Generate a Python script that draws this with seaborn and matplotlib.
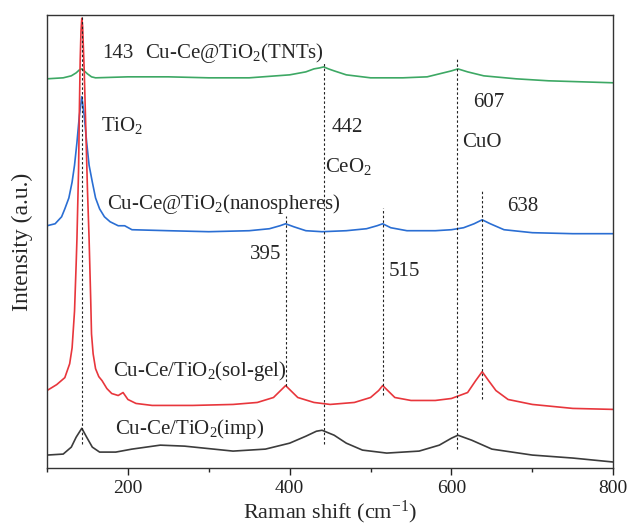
import matplotlib
matplotlib.use("Agg")
import matplotlib.pyplot as plt
import seaborn as sns
import pandas as pd
from matplotlib.ticker import MultipleLocator

# ---- data (Raman shift, intensity a.u.) ----
tnt_x = [100, 120, 130, 136, 140, 143, 146, 150, 155, 160, 200, 250, 300, 350,
         400, 420, 430, 437, 442, 448, 455, 470, 500, 540, 570, 590, 600, 608,
         620, 640, 680, 720, 760, 800]
tnt_y = [392, 393, 395, 398, 401, 402, 400, 397, 394, 393, 394, 394, 393, 393,
         396, 399, 402, 403, 404, 402, 400, 396, 393, 393, 394, 398, 400, 402,
         399, 395, 392, 390, 389, 388]

nano_x = [100, 110, 118, 122, 127, 131, 134, 137, 140, 143, 146, 149, 152, 156,
          160, 165, 171, 178, 188, 196, 205, 250, 300, 350, 375, 388, 395, 405,
          420, 440, 470, 495, 508, 515, 525, 545, 580, 600, 615, 628, 638, 648,
          665, 700, 750, 800]
nano_y = [244, 246, 253, 261, 272, 288, 305, 328, 355, 374, 355, 328, 305, 288,
          272, 261, 253, 248, 244, 244, 240, 239, 238, 239, 241, 244, 246, 243,
          239, 238, 239, 241, 244, 246, 242, 239, 239, 240, 242, 246, 250, 246,
          240, 237, 236, 236]

solgel_x = [100, 112, 122, 128, 131, 134, 136, 137, 139, 140, 141, 142, 143, 144,
            146, 148, 150, 152, 154, 155, 157, 160, 164, 168, 174, 180, 188, 194,
            200, 210, 230, 280, 330, 360, 380, 390, 395, 400, 410, 430, 450, 480,
            500, 510, 515, 520, 530, 550, 580, 600, 620, 630, 638, 645, 655, 670,
            700, 750, 800]
solgel_y = [78, 84, 91, 105, 121, 158, 205, 231, 301, 361, 411, 440, 453, 445,
            400, 340, 280, 231, 170, 135, 115, 100, 92, 88, 80, 75, 73, 76,
            69, 65, 63, 63, 64, 66, 71, 79, 83, 79, 71, 66, 64, 66,
            71, 78, 83, 79, 71, 68, 68, 70, 76, 88, 97, 89, 78, 69,
            64, 60, 59]

imp_x = [100, 120, 130, 136, 143, 149, 156, 165, 185, 205, 240, 270, 330, 370,
         400, 420, 433, 440, 455, 470, 490, 520, 560, 585, 600, 608, 625, 650,
         700, 750, 800]
imp_y = [13, 14, 21, 31, 40, 31, 21, 16, 16, 19, 23, 22, 17, 19,
         25, 32, 37, 38, 33, 25, 18, 15, 17, 23, 30, 33, 28, 19,
         13, 10, 6]

series_names = ["Cu-Ce@TiO2(TNTs)", "Cu-Ce@TiO2(nanospheres)",
                "Cu-Ce/TiO2(sol-gel)", "Cu-Ce/TiO2(imp)"]
series_colors = ["#3da864", "#2a6ed3", "#e8363c", "#3c3c3c"]

# peak markers: position, bottom, top
peak_pos = [143, 442, 607, 395, 515, 638]
peak_bottom = [24, 24, 19, 83, 74, 69]
peak_top = [456, 408, 414, 254, 262, 281]

sns.set_style("ticks")
plt.rcParams["font.family"] = ["Liberation Serif", "DejaVu Serif"]
plt.rcParams["mathtext.fontset"] = "custom"
plt.rcParams["mathtext.rm"] = "Liberation Serif"
plt.rcParams["mathtext.it"] = "Liberation Serif:italic"

frames = []
for name, xs, ys in zip(series_names,
                        [tnt_x, nano_x, solgel_x, imp_x],
                        [tnt_y, nano_y, solgel_y, imp_y]):
    frames.append(pd.DataFrame({"shift": xs, "intensity": ys, "sample": name}))
df = pd.concat(frames, ignore_index=True)

fig = plt.figure(figsize=(6.27, 5.27), dpi=100)
ax = fig.add_axes([0.075, 0.112, 0.903, 0.859])

sns.lineplot(data=df, x="shift", y="intensity", hue="sample",
             palette=dict(zip(series_names, series_colors)),
             sort=False, linewidth=1.2, legend=False, ax=ax)

for p, b, t in zip(peak_pos, peak_bottom, peak_top):
    ax.vlines(p, b, t, colors="#222222", linestyles=(0, (2.2, 2.0)), linewidth=0.8)

fs = 15
ax.text(168, 413, "143", fontsize=fs)
ax.text(221, 413, "Cu-Ce@TiO$_2$(TNTs)", fontsize=fs)
ax.text(167, 339, "TiO$_2$", fontsize=fs)
ax.text(174, 261, "Cu-Ce@TiO$_2$(nanospheres)", fontsize=fs)
ax.text(452, 338, "442", fontsize=fs)
ax.text(444, 298, "CeO$_2$", fontsize=fs)
ax.text(627, 364, "607", fontsize=fs)
ax.text(613, 323, "CuO", fontsize=fs)
ax.text(669, 259, "638", fontsize=fs)
ax.text(351, 210, "395", fontsize=fs)
ax.text(522, 193, "515", fontsize=fs)
ax.text(182, 93, "Cu-Ce/TiO$_2$(sol-gel)", fontsize=fs)
ax.text(184, 34, "Cu-Ce/TiO$_2$(imp)", fontsize=fs)

ax.set_xlim(100, 800)
ax.set_ylim(0, 456)
ax.xaxis.set_minor_locator(MultipleLocator(100))
ax.set_xticks([200, 400, 600, 800])
ax.set_yticks([])
ax.tick_params(axis="x", which="major", direction="out", length=5, width=1,
               labelsize=14, colors="#222222", pad=4)
ax.tick_params(axis="x", which="minor", direction="out", length=3, width=1)
for s in ax.spines.values():
    s.set_visible(True)
    s.set_color("#333333")
    s.set_linewidth(1.0)

ax.set_xlabel("Raman shift (cm$^{-1}$)", fontsize=16, labelpad=1)
ax.set_ylabel("Intensity (a.u.)", fontsize=17, labelpad=10)

fig.savefig("out.png", dpi=100)
plt.close(fig)
